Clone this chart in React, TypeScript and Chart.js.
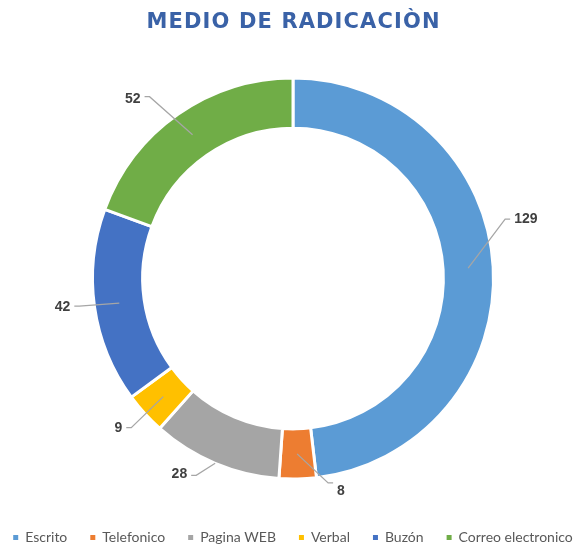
import React, { useEffect, useRef } from 'react';
import { Chart, registerables } from 'chart.js';

Chart.register(...registerables);

const TITLE = 'MEDIO DE RADICACIÒN';
const categories = ['Escrito', 'Telefonico', 'Pagina WEB', 'Verbal', 'Buzón', 'Correo electronico'];
const values = [129, 8, 28, 9, 42, 52];
const colors = ['#5B9BD5', '#ED7D31', '#A5A5A5', '#FFC000', '#4472C4', '#70AD47'];

// data-label leader layout (offsets relative to each slice's anchor point)
const labelElbowDx = [37, 31, -19, -32, -40, -43];
const labelElbowDy = [-49, 29, 12, 31, 3, -38];
const labelTextDy = [0, 8.5, -1, 1, 1, 2];
const labelAnchorOuter = [false, false, true, false, false, false];

const VIEW_W = 577;
const VIEW_H = 548;
const CANVAS_W = 700;
const SHIFT_X = 57;
const TITLE_WIDTH = 293;
const TITLE_BASELINE = 28;

const leaderLabels = {
  id: 'leaderLabels',
  afterDatasetsDraw(chart: any) {
    const ctx = chart.ctx;
    const meta = chart.getDatasetMeta(0);
    const data = chart.data.datasets[0].data;
    meta.data.forEach((arc: any, i: number) => {
      const p = arc.getProps(['x', 'y', 'startAngle', 'endAngle', 'innerRadius', 'outerRadius'], true);
      const mid = (p.startAngle + p.endAngle) / 2;
      const r = labelAnchorOuter[i] ? p.outerRadius : (p.innerRadius + p.outerRadius) / 2;
      const ax = p.x + Math.cos(mid) * r;
      const ay = p.y + Math.sin(mid) * r;
      const ex = ax + labelElbowDx[i];
      const ey = ay + labelElbowDy[i];
      const dir = labelElbowDx[i] >= 0 ? 1 : -1;
      const tx = ex + dir * 5;
      ctx.save();
      ctx.strokeStyle = '#A6A6A6';
      ctx.lineWidth = 1.25;
      ctx.beginPath();
      ctx.moveTo(ax, ay);
      ctx.lineTo(ex, ey);
      ctx.lineTo(tx, ey);
      ctx.stroke();
      ctx.font = 'bold 14px "Liberation Sans"';
      ctx.fillStyle = '#404040';
      ctx.textBaseline = 'middle';
      ctx.textAlign = dir > 0 ? 'left' : 'right';
      ctx.fillText(String(data[i]), tx + dir * 4, ey + labelTextDy[i]);
      ctx.restore();
    });
  },
};

const spacedTitle = {
  id: 'spacedTitle',
  afterDraw(chart: any) {
    const ctx = chart.ctx;
    const ca = chart.chartArea;
    const cx = (ca.left + ca.right) / 2;
    ctx.save();
    ctx.font = 'bold 21px "DejaVu Sans"';
    ctx.fillStyle = '#3A62A7';
    ctx.textBaseline = 'alphabetic';
    ctx.textAlign = 'left';
    const chars = Array.from(TITLE);
    const widths = chars.map((c) => ctx.measureText(c).width);
    const raw = widths.reduce((a, b) => a + b, 0);
    const spacing = (TITLE_WIDTH - raw) / (chars.length - 1);
    let x = cx - TITLE_WIDTH / 2;
    chars.forEach((c, i) => {
      ctx.fillText(c, x, TITLE_BASELINE);
      x += widths[i] + spacing;
    });
    ctx.restore();
  },
};

export default function App() {
  const ref = useRef<HTMLCanvasElement | null>(null);

  useEffect(() => {
    if (!ref.current) return;
    const baseGen = (Chart as any).overrides.doughnut.plugins.legend.labels.generateLabels;
    const chart = new Chart(ref.current, {
      type: 'doughnut',
      data: {
        labels: categories,
        datasets: [
          {
            data: values,
            backgroundColor: colors,
            borderColor: '#FFFFFF',
            borderWidth: 3,
          },
        ],
      },
      options: {
        responsive: false,
        animation: false,
        devicePixelRatio: 1,
        radius: 200.5,
        cutout: '75%',
        layout: { padding: { top: 49.5, bottom: -6.5, left: 0, right: 0 } },
        plugins: {
          title: { display: false },
          tooltip: { enabled: false },
          legend: {
            display: true,
            position: 'bottom',
            labels: {
              boxWidth: 5,
              boxHeight: 5,
              padding: 23,
              color: '#595959',
              font: { family: 'Lato', size: 14 },
              generateLabels: (c: any) =>
                baseGen(c).map((l: any) => ({ ...l, lineWidth: 0, strokeStyle: l.fillStyle })),
            },
          },
        },
      } as any,
      plugins: [leaderLabels, spacedTitle],
    });
    return () => chart.destroy();
  }, []);

  return (
    <div
      style={{
        position: 'fixed',
        left: 0,
        top: 0,
        width: VIEW_W,
        height: VIEW_H,
        overflow: 'hidden',
        background: '#FFFFFF',
      }}
    >
      <canvas
        ref={ref}
        width={CANVAS_W}
        height={VIEW_H}
        style={{ position: 'absolute', left: -SHIFT_X, top: 0, width: CANVAS_W, height: VIEW_H }}
      />
    </div>
  );
}
